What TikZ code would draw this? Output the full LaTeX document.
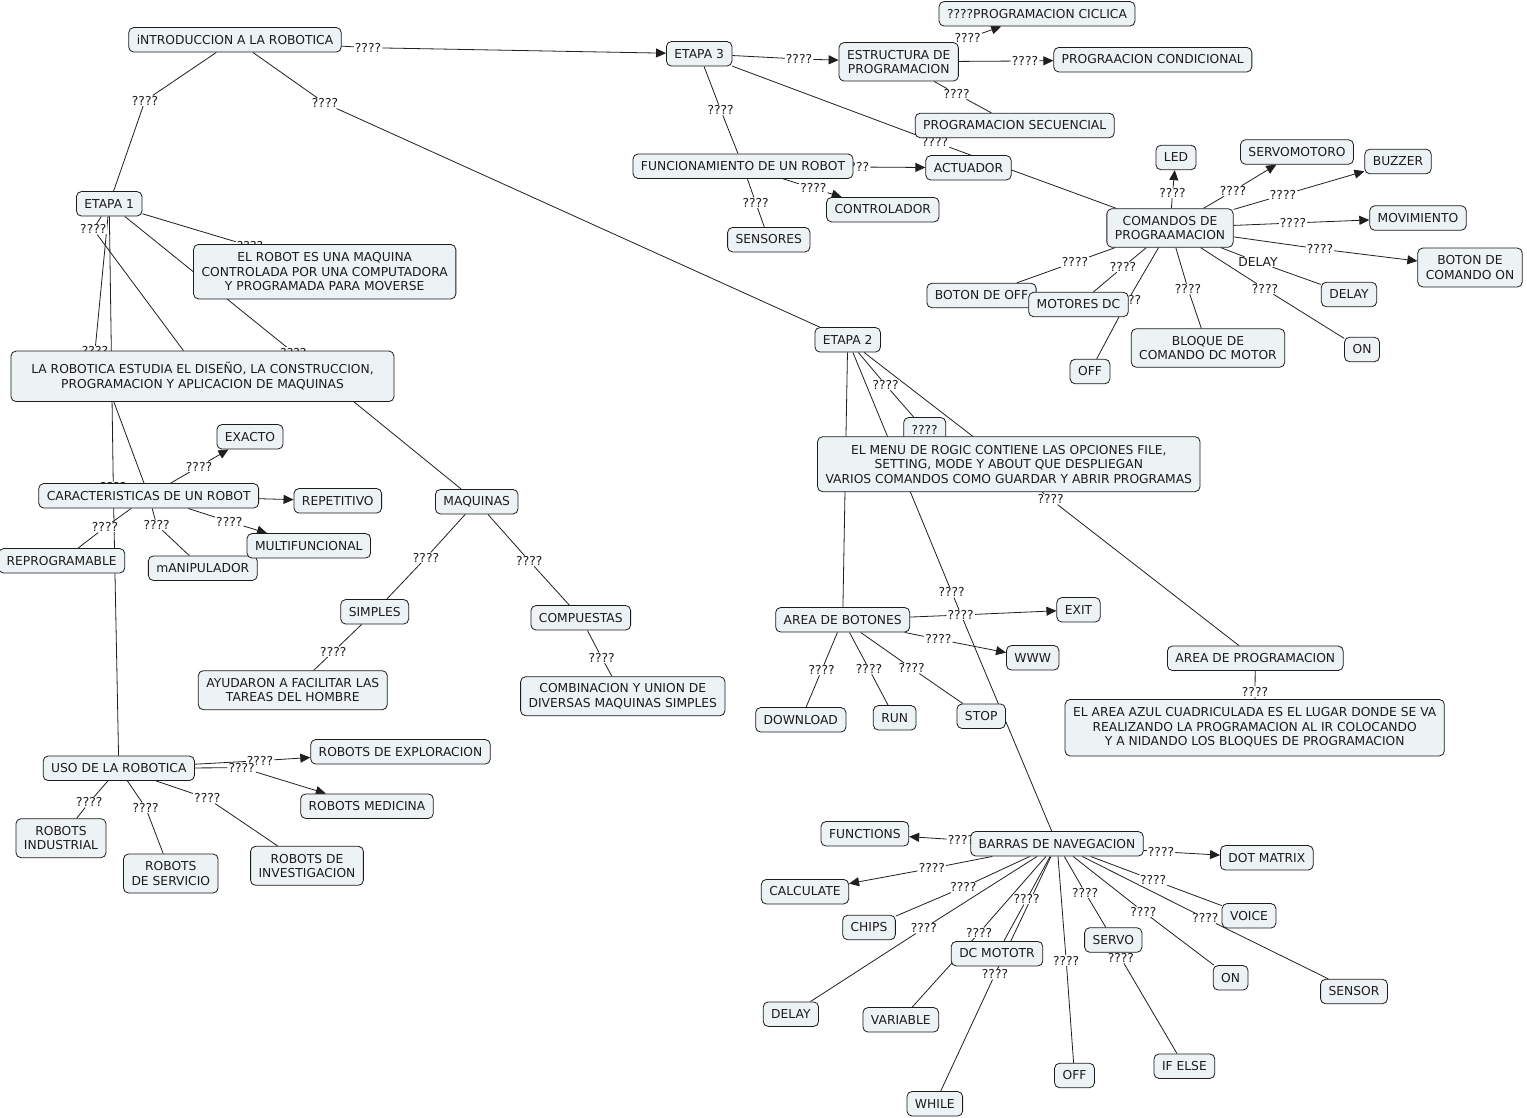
\documentclass[tikz,border=0pt]{standalone}
\usepackage{fontspec}
\setmainfont{DejaVu Sans}
\usetikzlibrary{arrows.meta}
\pgfdeclarelayer{bg}
\pgfdeclarelayer{edges}
\pgfdeclarelayer{lbls}
\pgfsetlayers{bg,edges,lbls,main}
\definecolor{cfill}{HTML}{EDF2F5}
\definecolor{ink}{HTML}{1C1C1C}
\newcommand{\cfont}{\fontsize{12.3}{14.5}\selectfont}
\newcommand{\cmlink}[3]{\draw[lnk] (#1) -- (#2); \draw[lnk] (#2) -- (#3);}
\newcommand{\cmarrow}[3]{\draw[lnk] (#1) -- (#2); \draw[arr] (#2) -- (#3);}
\tikzset{
 cbase/.style={draw=ink, line width=0.8pt, rounded corners=5pt, fill=cfill, text=ink, font=\cfont, inner xsep=8pt, inner ysep=5pt},
 concept/.style={cbase, text height=11.5pt, text depth=3pt},
 multi/.style={cbase, align=center, inner ysep=2pt, minimum height=#1pt},
 multi/.default=39,
 lbl/.style={fill=white, text=ink, font=\cfont, inner xsep=1pt, inner ysep=0.5pt},
 lnk/.style={draw=black!88, line width=0.8pt},
 arr/.style={lnk, -{Triangle[length=10pt,width=9pt]}},
}
\begin{document}
\begin{tikzpicture}[x=1pt,y=-1pt]
\useasboundingbox (0,0) rectangle (1527,1118);
\begin{pgfonlayer}{bg}
\fill[white] (0,0) rectangle (1527,1118);
\end{pgfonlayer}

% ---------- concepts ----------
\node[concept] (intro) at (235,39.8) {iNTRODUCCION A LA ROBOTICA};
\node[concept] (etapa1) at (109.2,203.8) {ETAPA 1};
\node[multi=54.5] (robotdef) at (324.7,271.7) {EL ROBOT ES UNA MAQUINA\\CONTROLADA POR UNA COMPUTADORA\\Y PROGRAMADA PARA MOVERSE};
\node[multi=50.5, minimum width=383pt] (robestudia) at (202.5,376.3) {LA ROBOTICA ESTUDIA EL DISEÑO, LA CONSTRUCCION,\\PROGRAMACION Y APLICACION DE MAQUINAS};
\node[concept] (exacto) at (250,436.8) {EXACTO};
\node[concept] (caract) at (148.7,495.8) {CARACTERISTICAS DE UN ROBOT};
\node[concept] (repetitivo) at (337.8,500.8) {REPETITIVO};
\node[concept] (reprog) at (61.7,560.8) {REPROGRAMABLE};
\node[concept] (manip) at (202.8,568.2) {mANIPULADOR};
\node[concept] (multif) at (308.8,545.8) {MULTIFUNCIONAL};
\node[concept] (maquinas) at (476.7,501.7) {MAQUINAS};
\node[concept] (simples) at (374.7,611.8) {SIMPLES};
\node[concept] (compuestas) at (580.8,617.8) {COMPUESTAS};
\node[multi] (ayudaron) at (292.8,690.2) {AYUDARON A FACILITAR LAS\\TAREAS DEL HOMBRE};
\node[multi] (combinacion) at (622.8,696.2) {COMBINACION Y UNION DE\\DIVERSAS MAQUINAS SIMPLES};
\node[concept] (uso) at (118.8,768.3) {USO DE LA ROBOTICA};
\node[concept] (exploracion) at (400.5,751.8) {ROBOTS DE EXPLORACION};
\node[concept] (medicina) at (367,806.2) {ROBOTS MEDICINA};
\node[multi] (industrial) at (61,838.2) {ROBOTS\\INDUSTRIAL};
\node[multi] (servicio) at (170.8,873.5) {ROBOTS\\DE SERVICIO};
\node[multi] (investigacion) at (307,865.8) {ROBOTS DE\\INVESTIGACION};

\node[concept] (etapa3) at (699.2,53.8) {ETAPA 3};
\node[multi=38.5] (estructura) at (898.7,61.8) {ESTRUCTURA DE\\PROGRAMACION};
\node[concept] (ciclica) at (1037,13.8) {????PROGRAMACION CICLICA};
\node[concept] (condicional) at (1152.8,59.7) {PROGRAACION CONDICIONAL};
\node[concept] (secuencial) at (1014.7,125.5) {PROGRAMACION SECUENCIAL};
\node[concept] (funcionamiento) at (743,166.2) {FUNCIONAMIENTO DE UN ROBOT};
\node[concept] (actuador) at (968.5,167.8) {ACTUADOR};
\node[concept] (controlador) at (882.8,209.7) {CONTROLADOR};
\node[concept] (sensores) at (768.8,239.7) {SENSORES};

\node[multi=38.5] (comandos) at (1170,228) {COMANDOS DE\\PROGRAAMACION};
\node[concept] (led) at (1176,157.5) {LED};
\node[concept] (servomotoro) at (1297,152) {SERVOMOTORO};
\node[concept] (buzzer) at (1398,161.5) {BUZZER};
\node[concept] (movimiento) at (1418,218) {MOVIMIENTO};
\node[multi] (botonon) at (1470,267.5) {BOTON DE\\COMANDO ON};
\node[concept] (delay1) at (1349,294.5) {DELAY};
\node[concept] (on1) at (1362,349.5) {ON};
\node[multi=38.5] (bloque) at (1208,348) {BLOQUE DE\\COMANDO DC MOTOR};
\node[concept] (off1) at (1090,371.5) {OFF};
\node[concept] (botonoff) at (981.5,295.5) {BOTON DE OFF};
\node[concept] (motoresdc) at (1078.5,304.5) {MOTORES DC};

\node[concept] (etapa2) at (847.7,339.8) {ETAPA 2};
\node[concept] (q4node) at (924.7,429.8) {????};
\node[multi=55] (menu) at (1008.8,464.2) {EL MENU DE ROGIC CONTIENE LAS OPCIONES FILE,\\SETTING, MODE Y ABOUT QUE DESPLIEGAN\\VARIOS COMANDOS COMO GUARDAR Y ABRIR PROGRAMAS};
\node[concept] (areabot) at (842.7,619.8) {AREA DE BOTONES};
\node[concept] (exit) at (1078.5,609.8) {EXIT};
\node[concept] (www) at (1032.7,657.8) {WWW};
\node[concept] (download) at (800.8,719.8) {DOWNLOAD};
\node[concept] (run) at (894.7,717.8) {RUN};
\node[concept] (stop) at (981.2,716.2) {STOP};
\node[concept] (areaprog) at (1255.3,658.3) {AREA DE PROGRAMACION};
\node[multi=56.5] (azul) at (1254.7,727.7) {EL AREA AZUL CUADRICULADA ES EL LUGAR DONDE SE VA\\REALIZANDO LA PROGRAMACION AL IR COLOCANDO\\Y A NIDANDO LOS BLOQUES DE PROGRAMACION};

\node[concept] (barras) at (1057,843.8) {BARRAS DE NAVEGACION};
\node[concept] (functions) at (864.9,833.8) {FUNCTIONS};
\node[concept] (dotmatrix) at (1266.8,857.8) {DOT MATRIX};
\node[concept] (calculate) at (805,891.7) {CALCULATE};
\node[concept] (chips) at (869,927.5) {CHIPS};
\node[concept] (delay2) at (790.9,1014.2) {DELAY};
\node[concept] (variable) at (900.8,1019.8) {VARIABLE};
\node[concept] (dcmototr) at (997,953.7) {DC MOTOTR};
\node[concept] (while) at (934.8,1103.8) {WHILE};
\node[concept] (off2) at (1074.5,1075.5) {OFF};
\node[concept] (servo) at (1113.3,940) {SERVO};
\node[concept] (ifelse) at (1184.4,1066.2) {IF ELSE};
\node[concept] (on2) at (1230.6,977.8) {ON};
\node[concept] (voice) at (1249,915.8) {VOICE};
\node[concept] (sensor) at (1354,991.5) {SENSOR};

% ---------- linking phrases ----------
\begin{pgfonlayer}{lbls}
\node[lbl] (Lie3) at (368,47.7) {????};
\node[lbl] (Lie1) at (145,100.7) {????};
\node[lbl] (Lie2) at (325,103.3) {????};
\node[lbl] (Le1def) at (250,246) {????};
\node[lbl] (Le1est) at (93.3,229.3) {????};
\node[lbl] (Le1car) at (95,351) {????};
\node[lbl] (Le1maq) at (293.3,352.5) {????};
\node[lbl] (Le1uso) at (113.3,487) {????};
\node[lbl] (Lcexa) at (199,466.7) {????};
\node[lbl] (Lcrep) at (105,527.3) {????};
\node[lbl] (Lcman) at (156.7,525) {????};
\node[lbl] (Lcmul) at (229.3,521.7) {????};
\node[lbl] (Lmsim) at (426,557.7) {????};
\node[lbl] (Lmcom) at (529.3,561) {????};
\node[lbl] (Lsayu) at (333.3,651.7) {????};
\node[lbl] (Lccomb) at (601.7,657.7) {????};
\node[lbl] (Luexp) at (260,760.7) {????};
\node[lbl] (Lumed) at (241.7,767.7) {????};
\node[lbl] (Luind) at (89.3,802.3) {????};
\node[lbl] (Luser) at (145.7,807.7) {????};
\node[lbl] (Luinv) at (207.3,798.3) {????};
\node[lbl] (Le3est) at (799,59) {????};
\node[lbl] (Lecic) at (967.7,38.3) {????};
\node[lbl] (Lecon) at (1025,61) {????};
\node[lbl] (Lesec) at (956.7,94) {????};
\node[lbl] (Le3fun) at (720.7,110) {????};
\node[lbl] (Le3com) at (935,142) {????};
\node[lbl] (Lfact) at (856,167) {????};
\node[lbl] (Lfcon) at (813.3,188.3) {????};
\node[lbl] (Lfsen) at (755.7,202.7) {????};
\node[lbl] (Lkled) at (1172.5,193) {????};
\node[lbl] (Lkser) at (1233,191) {????};
\node[lbl] (Lkbuz) at (1283,195) {????};
\node[lbl] (Lkmov) at (1293,223) {????};
\node[lbl] (Lkbon) at (1320,249) {????};
\node[lbl] (Lkdel) at (1258,262) {DELAY};
\node[lbl] (Lkon) at (1265,289) {????};
\node[lbl] (Lkblo) at (1188,289) {????};
\node[lbl] (Lkoff) at (1128,300) {????};
\node[lbl] (Lkmot) at (1123,267) {????};
\node[lbl] (Lkbof) at (1075,262) {????};
\node[lbl] (Le2q) at (885.7,385) {????};
\node[lbl] (Le2bar) at (951.7,592.3) {????};
\node[lbl] (Lmap) at (1050.7,499.3) {????};
\node[lbl] (Lapaz) at (1255,691.7) {????};
\node[lbl] (Labexit) at (960.7,615) {????};
\node[lbl] (Labwww) at (938.3,639.3) {????};
\node[lbl] (Labdl) at (821.7,670) {????};
\node[lbl] (Labrun) at (869,669) {????};
\node[lbl] (Labstop) at (911.7,668.3) {????};
\node[lbl] (Lbfun) at (961,840) {????};
\node[lbl] (Lbdot) at (1161,851.7) {????};
\node[lbl] (Lbcalc) at (931.8,868.3) {????};
\node[lbl] (Lbchips) at (963.4,887.3) {????};
\node[lbl] (Lbdelay) at (923.9,928.3) {????};
\node[lbl] (Lbvar) at (979.2,932.7) {????};
\node[lbl] (Lbdc) at (1026.7,899.3) {????};
\node[lbl] (Lbwhile) at (995,974.3) {????};
\node[lbl] (Lboff) at (1066.2,960.7) {????};
\node[lbl] (Lbservo) at (1085.2,892.7) {????};
\node[lbl] (Lsif) at (1120.8,958) {????};
\node[lbl] (Lbon) at (1143.3,911.7) {????};
\node[lbl] (Lbvoice) at (1153.2,880) {????};
\node[lbl] (Lbsensor) at (1205.3,918.3) {????};
\end{pgfonlayer}

% ---------- connectors ----------
\begin{pgfonlayer}{edges}
\cmlink{intro}{Lie1}{etapa1}
\cmarrow{intro}{Lie3}{etapa3}
\cmlink{intro}{Lie2}{etapa2}
\cmlink{etapa1}{Le1def}{robotdef}
\cmlink{etapa1}{Le1est}{robestudia}
\cmlink{etapa1}{Le1car}{caract}
\cmlink{etapa1}{Le1maq}{maquinas}
\cmlink{etapa1}{Le1uso}{uso}
\cmarrow{caract}{Lcexa}{exacto}
\draw[arr] (caract) -- (repetitivo);
\cmlink{caract}{Lcrep}{reprog}
\cmlink{caract}{Lcman}{manip}
\cmarrow{caract}{Lcmul}{multif}
\cmlink{maquinas}{Lmsim}{simples}
\cmlink{maquinas}{Lmcom}{compuestas}
\cmlink{simples}{Lsayu}{ayudaron}
\cmlink{compuestas}{Lccomb}{combinacion}
\cmarrow{uso}{Luexp}{exploracion}
\cmarrow{uso}{Lumed}{medicina}
\cmlink{uso}{Luind}{industrial}
\cmlink{uso}{Luser}{servicio}
\cmlink{uso}{Luinv}{investigacion}
\cmarrow{etapa3}{Le3est}{estructura}
\cmarrow{estructura}{Lecic}{ciclica}
\cmarrow{estructura}{Lecon}{condicional}
\cmlink{estructura}{Lesec}{secuencial}
\cmlink{etapa3}{Le3fun}{funcionamiento}
\cmlink{etapa3}{Le3com}{comandos}
\cmarrow{funcionamiento}{Lfact}{actuador}
\cmarrow{funcionamiento}{Lfcon}{controlador}
\cmlink{funcionamiento}{Lfsen}{sensores}
\cmarrow{comandos}{Lkled}{led}
\cmarrow{comandos}{Lkser}{servomotoro}
\cmarrow{comandos}{Lkbuz}{buzzer}
\cmarrow{comandos}{Lkmov}{movimiento}
\cmarrow{comandos}{Lkbon}{botonon}
\cmlink{comandos}{Lkdel}{delay1}
\cmlink{comandos}{Lkon}{on1}
\cmlink{comandos}{Lkblo}{bloque}
\cmlink{comandos}{Lkoff}{off1}
\cmlink{comandos}{Lkmot}{motoresdc}
\cmlink{comandos}{Lkbof}{botonoff}
\cmlink{etapa2}{Le2q}{q4node}
\draw[lnk] (etapa2) -- (menu);
\draw[lnk] (etapa2) -- (areabot);
\cmlink{etapa2}{Le2bar}{barras}
\cmlink{menu}{Lmap}{areaprog}
\cmlink{areaprog}{Lapaz}{azul}
\cmarrow{areabot}{Labexit}{exit}
\cmarrow{areabot}{Labwww}{www}
\cmlink{areabot}{Labdl}{download}
\cmlink{areabot}{Labrun}{run}
\cmlink{areabot}{Labstop}{stop}
\cmarrow{barras}{Lbfun}{functions}
\cmarrow{barras}{Lbdot}{dotmatrix}
\cmarrow{barras}{Lbcalc}{calculate}
\cmlink{barras}{Lbchips}{chips}
\cmlink{barras}{Lbdelay}{delay2}
\cmlink{barras}{Lbvar}{variable}
\cmlink{barras}{Lbdc}{dcmototr}
\cmlink{barras}{Lbwhile}{while}
\cmlink{barras}{Lboff}{off2}
\cmlink{barras}{Lbservo}{servo}
\cmlink{servo}{Lsif}{ifelse}
\cmlink{barras}{Lbon}{on2}
\cmlink{barras}{Lbvoice}{voice}
\cmlink{barras}{Lbsensor}{sensor}
\end{pgfonlayer}
\end{tikzpicture}
\end{document}
